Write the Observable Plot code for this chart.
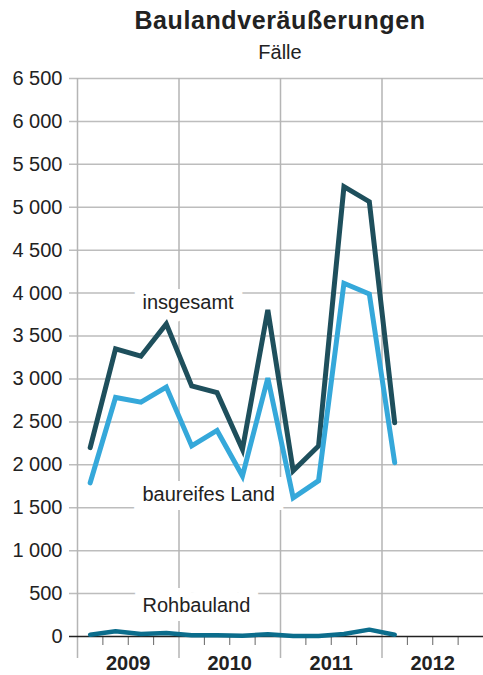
<!DOCTYPE html>
<html>
<head>
<meta charset="utf-8">
<script src="https://cdn.jsdelivr.net/npm/d3@7"></script>
<script src="https://cdn.jsdelivr.net/npm/@observablehq/plot@0.6"></script>
<style>
  html, body { margin: 0; padding: 0; background: #fff; }
  body { width: 483px; height: 675px; overflow: hidden; font-family: "Liberation Sans", Arial, sans-serif; color: #222; }
  #head { position: relative; height: 62px; width: 483px; }
  #title { position: absolute; left: 77px; width: 406px; top: 8px; text-align: center; font-size: 25px; line-height: 25px; font-weight: bold; letter-spacing: 0.6px; }
  #sub { position: absolute; left: 77px; width: 406px; top: 42px; text-align: center; font-size: 20px; line-height: 20px; }
  svg { display: block; }
</style>
</head>
<body>
<div id="head">
  <div id="title">Baulandveräußerungen</div>
  <div id="sub">Fälle</div>
</div>
<div id="chart"></div>
<script>
// ---- data ----
const quarters = ["2009 Q1","2009 Q2","2009 Q3","2009 Q4","2010 Q1","2010 Q2","2010 Q3","2010 Q4","2011 Q1","2011 Q2","2011 Q3","2011 Q4","2012 Q1"];
const insgesamt = [2200, 3350, 3265, 3640, 2920, 2840, 2180, 3805, 1930, 2220, 5240, 5065, 2490];
const baureifesLand = [1790, 2785, 2730, 2905, 2220, 2400, 1870, 3010, 1615, 1815, 4115, 3990, 2025];
const rohbauland = [20, 60, 30, 40, 15, 15, 10, 25, 5, 5, 30, 80, 20];
const years = [2009, 2010, 2011, 2012];
const yTicks = [0, 500, 1000, 1500, 2000, 2500, 3000, 3500, 4000, 4500, 5000, 5500, 6000, 6500];
const yTickLabels = ["0", "500", "1\u00a0000", "1\u00a0500", "2\u00a0000", "2\u00a0500", "3\u00a0000", "3\u00a0500", "4\u00a0000", "4\u00a0500", "5\u00a0000", "5\u00a0500", "6\u00a0000", "6\u00a0500"];
const seriesNames = ["insgesamt", "baureifes Land", "Rohbauland"];

// ---- derived tables ----
const qx = q => { const [y, k] = q.split(" Q"); return +y + (+k - 0.5) / 4; };
const table = (vals) => quarters.map((q, i) => ({x: qx(q), v: vals[i]}));
const quarterTicks = years.flatMap(y => [y + 0.25, y + 0.5, y + 0.75]);

// label anchors (annotation placement, in data units)
const labelAnchors = [
  {text: seriesNames[0], x: 2009.64, y: 3890},
  {text: seriesNames[1], x: 2009.64, y: 1650},
  {text: seriesNames[2], x: 2009.64, y: 355}
];

const font = '"Liberation Sans", Arial, sans-serif';
const chart = Plot.plot({
  width: 483,
  height: 613,
  marginTop: 16,
  marginBottom: 39,
  marginLeft: 77,
  marginRight: 0,
  style: {fontFamily: font, color: "#222", background: "#fff"},
  x: {type: "linear", domain: [2009, 2013], axis: null},
  y: {domain: [0, 6500], axis: null},
  marks: [
    Plot.ruleY(yTicks.filter(d => d > 0), {stroke: "#bdbdbd", strokeWidth: 1.5, insetLeft: -8}),
    Plot.ruleX(years, {stroke: "#b5b5b5", strokeWidth: 1.5, insetBottom: -22}),
    Plot.axisX({ticks: quarterTicks, tickSize: 9, tickFormat: () => "", label: null, stroke: "#666", strokeWidth: 1}),
    Plot.axisX({ticks: years.map(y => y + 0.5), tickSize: 0, tickPadding: 19, label: null, tickFormat: d => String(Math.floor(d)), fontSize: 20, fontWeight: "bold", fill: "#222"}),
    Plot.axisY({ticks: yTicks, tickSize: 0, tickPadding: 15, label: null, tickFormat: d => yTickLabels[yTicks.indexOf(d)], fontSize: 20, fill: "#222"}),
    Plot.ruleY([0], {stroke: "#222", strokeWidth: 1.5, insetLeft: -8}),
    Plot.text(labelAnchors, {x: "x", y: "y", text: "text", textAnchor: "start", fontSize: 20, fill: "#222", stroke: "white", strokeWidth: 18, strokeLinejoin: "miter", style: "letter-spacing:0.5px"}),
    Plot.line(table(insgesamt), {x: "x", y: "v", stroke: "#1e4f5c", strokeWidth: 5, strokeLinejoin: "miter", strokeMiterlimit: 4}),
    Plot.line(table(baureifesLand), {x: "x", y: "v", stroke: "#35a8da", strokeWidth: 5, strokeLinejoin: "miter", strokeMiterlimit: 4}),
    Plot.line(table(rohbauland), {x: "x", y: "v", stroke: "#0b6d8c", strokeWidth: 4.5, strokeLinejoin: "round"})
  ]
});
document.getElementById("chart").appendChild(chart);
</script>
</body>
</html>
